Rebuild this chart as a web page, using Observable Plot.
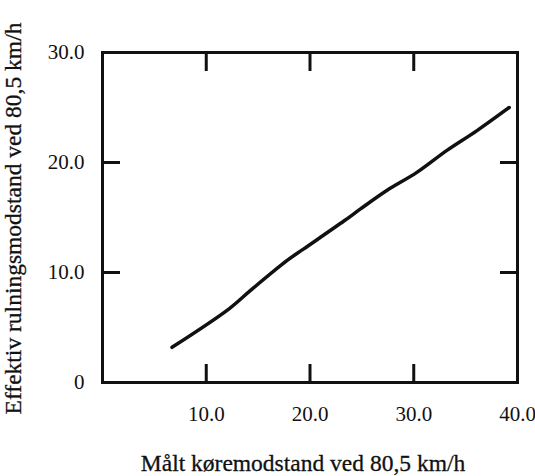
<!DOCTYPE html>
<html>
<head>
<meta charset="utf-8">
<script src="https://cdn.jsdelivr.net/npm/d3@7"></script>
<script src="https://cdn.jsdelivr.net/npm/@observablehq/plot@0.6"></script>
<style>
  html, body { margin: 0; padding: 0; background: #fff; }
  svg { font-family: "Liberation Serif", "Times New Roman", serif; }
</style>
</head>
<body>
<div id="chart"></div>
<script>
// Measured running resistance (x) vs effective rolling resistance (y), at 80.5 km/h
const xValues = [6.7, 12.2, 14.3, 17.8, 19.4, 23.3, 24.9, 27.4, 30.3, 33.2, 36.1, 39.2];
const yValues = [3.2, 6.7, 8.4, 11.1, 12.15, 14.7, 15.8, 17.45, 19.1, 21.1, 22.9, 25.0];
const xTicks = [10, 20, 30, 40];
const yTicks = [0, 10, 20, 30];
const xTickLabels = ["10.0", "20.0", "30.0", "40.0"];
const yTickLabels = ["0", "10.0", "20.0", "30.0"];
const xTitle = "Målt køremodstand ved 80,5 km/h";
const yTitle = "Effektiv rulningsmodstand ved 80,5 km/h";

const data = xValues.map((x, i) => ({x, y: yValues[i]}));
const tickFont = 21;
const titleFont = 23.5;

const chart = Plot.plot({
  width: 535,
  height: 476,
  marginLeft: 102,
  marginRight: 18,
  marginTop: 52,
  marginBottom: 94,
  style: {fontFamily: '"Liberation Serif", "Times New Roman", serif', fontSize: tickFont + "px", color: "#111", background: "#fff"},
  x: {domain: [0, 40]},
  y: {domain: [0, 30]},
  marks: [
    Plot.frame({stroke: "#111", strokeWidth: 3}),
    // inward ticks on all four sides
    Plot.axisX(xTicks.slice(0, 3), {anchor: "bottom", tickSize: -18, strokeWidth: 3, text: null, label: null}),
    Plot.axisX(xTicks.slice(0, 3), {anchor: "top", tickSize: -18, strokeWidth: 3, text: null, label: null}),
    Plot.axisY(yTicks.slice(1, 3), {anchor: "left", tickSize: -18, strokeWidth: 3, text: null, label: null}),
    Plot.axisY(yTicks.slice(1, 3), {anchor: "right", tickSize: -18, strokeWidth: 3, text: null, label: null}),
    // tick labels
    Plot.axisX(xTicks, {anchor: "bottom", tickSize: 0, tickPadding: 24, tickFormat: (d) => xTickLabels[xTicks.indexOf(d)], label: null, fontSize: tickFont, stroke: "#111", strokeWidth: 0.3}),
    Plot.axisY(yTicks, {anchor: "left", tickSize: 0, tickPadding: 18, tickFormat: (d) => yTickLabels[yTicks.indexOf(d)], label: null, fontSize: tickFont, stroke: "#111", strokeWidth: 0.3}),
    // axis titles
    Plot.text([xTitle], {frameAnchor: "bottom", textAnchor: "middle", dy: 88, dx: -7, fontSize: titleFont, fill: "#111", stroke: "#111", strokeWidth: 0.3}),
    Plot.text([yTitle], {frameAnchor: "left", textAnchor: "middle", dx: -89, dy: 1, rotate: -90, fontSize: titleFont, fill: "#111", stroke: "#111", strokeWidth: 0.3}),
    // curve
    Plot.line(data, {x: "x", y: "y", stroke: "#111", strokeWidth: 3.5, curve: "catmull-rom"})
  ]
});
document.getElementById("chart").appendChild(chart);
</script>
</body>
</html>
